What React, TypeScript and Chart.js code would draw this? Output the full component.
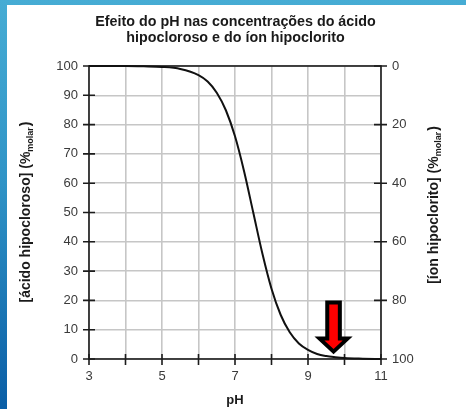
import React, { useEffect, useRef } from 'react';
import { Chart, registerables } from 'chart.js';

Chart.register(...registerables);

// ---- data ----
const titleLines = ['Efeito do pH nas concentrações do ácido', 'hipocloroso e do íon hipoclorito'];
const xTitle = 'pH';
const leftTitleMain = '[ácido hipocloroso] (%';
const rightTitleMain = '[íon hipoclorito] (%';
const titleSub = 'molar';
const titleEnd = ')';

const phValues = [3, 4, 4.5, 5, 5.5, 6, 6.25, 6.5, 6.75, 7, 7.25, 7.5, 7.75, 8, 8.25, 8.5, 8.75, 9, 9.25, 9.5, 9.75, 10, 10.5, 11];
const hoclValues = [100, 100, 99.9, 99.7, 99.0, 96.9, 94.7, 90.9, 84.9, 76.0, 64.0, 50.0, 36.0, 24.0, 15.1, 9.1, 5.3, 3.1, 1.7, 1.0, 0.6, 0.3, 0.1, 0];

const xMin = 3;
const xMax = 11;
const xStep = 1;
const xLabelValues = [3, 5, 7, 9, 11];
const leftMin = 0;
const leftMax = 100;
const leftStep = 10;
const rightStep = 20;

const arrowPH = 9.7;
const arrowFrom = 20;
const arrowTo = 1.5;

const FONT = "'Liberation Sans', Arial, Helvetica, sans-serif";

const decorPlugin = {
  id: 'decor',
  beforeDatasetsDraw(chart: any) {
    const { ctx, chartArea: a, scales } = chart;
    const x = scales.x, y = scales.y, y2 = scales.y2;
    ctx.save();
    ctx.strokeStyle = '#1c1c1c';
    ctx.lineWidth = 1.6;
    ctx.strokeRect(a.left, a.top, a.right - a.left, a.bottom - a.top);
    ctx.beginPath();
    x.ticks.forEach((t: any) => {
      const px = x.getPixelForValue(t.value);
      ctx.moveTo(px, a.bottom - 5);
      ctx.lineTo(px, a.bottom + 6);
    });
    y.ticks.forEach((t: any) => {
      const py = y.getPixelForValue(t.value);
      ctx.moveTo(a.left - 6, py);
      ctx.lineTo(a.left + 6, py);
    });
    y2.ticks.forEach((t: any) => {
      const py = y2.getPixelForValue(t.value);
      ctx.moveTo(a.right - 7, py);
      ctx.lineTo(a.right + 6, py);
    });
    ctx.stroke();
    ctx.restore();
  },
  afterDatasetsDraw(chart: any) {
    const { ctx, scales } = chart;
    const x = scales.x, y = scales.y;
    const px = x.getPixelForValue(arrowPH);
    const top = y.getPixelForValue(arrowFrom) + 2;
    const tip = y.getPixelForValue(arrowTo) - 3;
    const headH = 13;
    const shaftHalf = 6.3;
    const headHalf = 14;
    ctx.save();
    ctx.beginPath();
    ctx.moveTo(px - shaftHalf, top);
    ctx.lineTo(px + shaftHalf, top);
    ctx.lineTo(px + shaftHalf, tip - headH);
    ctx.lineTo(px + headHalf, tip - headH);
    ctx.lineTo(px, tip);
    ctx.lineTo(px - headHalf, tip - headH);
    ctx.lineTo(px - shaftHalf, tip - headH);
    ctx.closePath();
    ctx.fillStyle = '#ff0000';
    ctx.fill();
    ctx.lineJoin = 'miter';
    ctx.lineWidth = 4;
    ctx.strokeStyle = '#000';
    ctx.stroke();
    ctx.restore();
  },
  afterDraw(chart: any) {
    const { ctx, chartArea: a } = chart;
    ctx.save();
    ctx.fillStyle = '#1a1a1a';
    ctx.textAlign = 'center';
    ctx.textBaseline = 'middle';
    ctx.font = `bold 14.3px ${FONT}`;
    const cx = chart.width / 2 - 1;
    ctx.fillText(titleLines[0], cx, 17);
    ctx.fillText(titleLines[1], cx, 33);

    ctx.font = `bold 13px ${FONT}`;
    ctx.fillText(xTitle, (a.left + a.right) / 2, 395);

    const drawVTitle = (main: string, cxp: number, cy: number) => {
      ctx.save();
      ctx.translate(cxp, cy);
      ctx.rotate(-Math.PI / 2);
      ctx.textAlign = 'left';
      const mainFont = `bold 14px ${FONT}`;
      const subFont = `bold 9px ${FONT}`;
      ctx.font = mainFont;
      const w1 = ctx.measureText(main).width;
      const w3 = ctx.measureText(titleEnd).width;
      ctx.font = subFont;
      const w2 = ctx.measureText(titleSub).width;
      const total = w1 + w2 + w3 + 1;
      let sx = -total / 2;
      ctx.font = mainFont;
      ctx.fillText(main, sx, 0);
      sx += w1;
      ctx.font = subFont;
      ctx.fillText(titleSub, sx, 4);
      sx += w2 + 1;
      ctx.font = mainFont;
      ctx.fillText(titleEnd, sx, 0);
      ctx.restore();
    };
    drawVTitle(leftTitleMain, 19.5, 207);
    drawVTitle(rightTitleMain, 427.5, 200);
    ctx.restore();
  },
};

export default function App() {
  const ref = useRef<HTMLCanvasElement>(null);
  useEffect(() => {
    if (!ref.current) return;
    const gridCfg = {
      color: '#c6c6c6',
      lineWidth: 1.6,
      tickLength: 6,
      tickColor: 'transparent',
    };
    const tickFont = { family: FONT, size: 13 };
    const chart = new Chart(ref.current, {
      type: 'line',
      data: {
        datasets: [
          {
            data: phValues.map((p, i) => ({ x: p, y: hoclValues[i] })),
            borderColor: '#111',
            borderWidth: 2,
            pointRadius: 0,
            cubicInterpolationMode: 'monotone',
            fill: false,
            clip: 4,
          } as any,
        ],
      },
      options: {
        animation: false,
        responsive: false,
        devicePixelRatio: 1,
        layout: { padding: { top: 61, left: 0, right: 0, bottom: 0 } },
        plugins: { legend: { display: false }, tooltip: { enabled: false }, title: { display: false } },
        scales: {
          x: {
            type: 'linear',
            min: xMin,
            max: xMax,
            border: { display: false },
            grid: gridCfg,
            ticks: {
              stepSize: xStep,
              autoSkip: false,
              maxRotation: 0,
              padding: 4,
              color: '#3a3a3a',
              font: tickFont,
              callback: (v: any) => (xLabelValues.includes(Number(v)) ? String(v) : ''),
            },
            afterFit: (s: any) => {
              s.height = 50;
            },
          },
          y: {
            type: 'linear',
            position: 'left',
            min: leftMin,
            max: leftMax,
            border: { display: false },
            grid: gridCfg,
            ticks: { stepSize: leftStep, padding: 5, color: '#3a3a3a', font: tickFont },
            afterFit: (s: any) => {
              s.width = 82;
            },
          },
          y2: {
            type: 'linear',
            position: 'right',
            min: leftMin,
            max: leftMax,
            reverse: true,
            border: { display: false },
            grid: { ...gridCfg, drawOnChartArea: false },
            ticks: { stepSize: rightStep, padding: 5, color: '#3a3a3a', font: tickFont },
            afterFit: (s: any) => {
              s.width = 85;
            },
          },
        },
      } as any,
      plugins: [decorPlugin],
    });
    return () => chart.destroy();
  }, []);

  return (
    <div
      style={{
        position: 'fixed',
        left: 0,
        top: 0,
        width: 466,
        height: 409,
        background: 'linear-gradient(180deg, #46acd4 0%, #2f93c6 45%, #0a5ea6 100%)',
        overflow: 'hidden',
      }}
    >
      <canvas
        ref={ref}
        width={459}
        height={404}
        style={{ position: 'absolute', left: 7, top: 5, width: 459, height: 404, background: '#fff' }}
      />
    </div>
  );
}
